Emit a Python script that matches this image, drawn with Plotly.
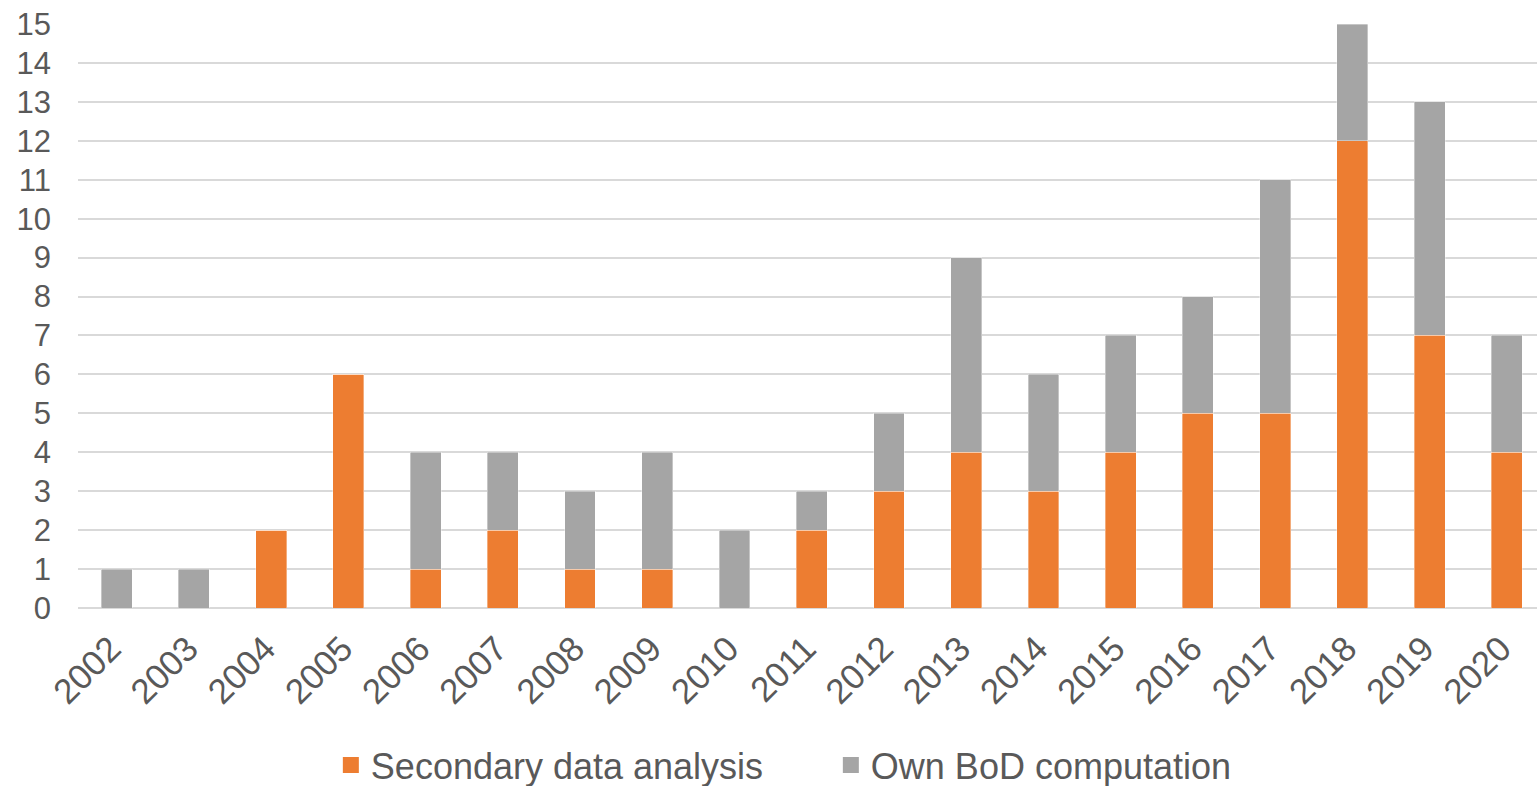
import plotly.graph_objects as go

years = [str(y) for y in range(2002, 2021)]
secondary = [0, 0, 2, 6, 1, 2, 1, 1, 0, 2, 3, 4, 3, 4, 5, 5, 12, 7, 4]
own_bod = [1, 1, 0, 0, 3, 2, 2, 3, 2, 1, 2, 5, 3, 3, 3, 6, 3, 6, 3]
y_ticks = list(range(0, 16))

ORANGE = "#ED7D31"
GRAY = "#A5A5A5"
TEXT = "#595959"
GRID = "#D9D9D9"
FONT = "Liberation Sans, Arial, sans-serif"

fig = go.Figure()
fig.add_trace(go.Bar(x=years, y=secondary, name="Secondary data analysis",
                     marker=dict(color=ORANGE, line=dict(width=0.8, color="rgba(255,255,255,0.45)")),
                     showlegend=False))
fig.add_trace(go.Bar(x=years, y=own_bod, name="Own BoD computation",
                     marker=dict(color=GRAY, line=dict(width=0.8, color="rgba(255,255,255,0.45)")),
                     showlegend=False))
# legend entries with larger square symbols
fig.add_trace(go.Scatter(x=[None], y=[None], mode="markers", name="Secondary data analysis",
                         marker=dict(symbol="square", size=16, color=ORANGE)))
fig.add_trace(go.Scatter(x=[None], y=[None], mode="markers", name="Own BoD computation",
                         marker=dict(symbol="square", size=16, color=GRAY)))

fig.update_layout(
    width=1537, height=786,
    barmode="stack", bargap=0.6,
    paper_bgcolor="white", plot_bgcolor="white",
    margin=dict(l=78, r=0, t=24, b=178, autoexpand=False),
    font=dict(family=FONT, color=TEXT, size=32),
    legend=dict(orientation="h", x=0.516, xanchor="center", y=-0.269, yanchor="middle",
                font=dict(size=36, color=TEXT, family=FONT), entrywidth=455,
                traceorder="normal", itemsizing="trace"),
)
fig.update_xaxes(type="category", range=[-0.5, 18.39], tickangle=-45,
                 tickfont=dict(size=35, color=TEXT), showgrid=False, automargin=False,
                 showline=False, ticks="", ticklabelstandoff=12, ticklabelshift=-6)
fig.update_yaxes(range=[0, 15], tickvals=y_ticks, showgrid=True, gridcolor=GRID, gridwidth=1.5,
                 zeroline=True, zerolinecolor=GRID, zerolinewidth=1.5, automargin=False,
                 tickfont=dict(size=31, color=TEXT), ticks="", ticklabelstandoff=26)

fig.write_html("out.html", config={"displayModeBar": False},
               post_script="document.body.style.margin='0';document.body.style.padding='0';")
